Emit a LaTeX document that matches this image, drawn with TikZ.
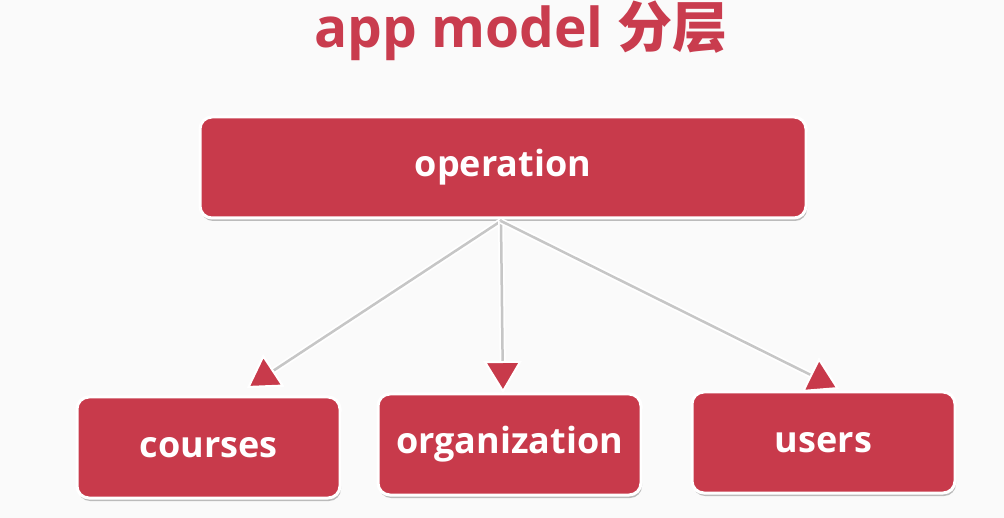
\documentclass[tikz,border=0pt]{standalone}
\usepackage{fontspec}
\setmainfont{Open Sans}
\newfontfamily\cjkfont{Noto Sans CJK SC}
\usetikzlibrary{arrows.meta,shadows}
\definecolor{boxred}{RGB}{200,58,75}
\definecolor{titlered}{RGB}{201,60,78}
\definecolor{bg}{RGB}{250,250,250}
\definecolor{linegray}{RGB}{198,198,198}
\tikzset{
  layerbox/.style={rectangle, rounded corners=12pt, fill=boxred, draw=white,
    line width=3pt, minimum height=101pt, text=white,
    font=\fontsize{36}{42}\selectfont\bfseries,
    drop shadow={shadow xshift=1pt, shadow yshift=-3pt, opacity=0.25, fill=black}},
  link/.style={draw=linegray, line width=2.5pt,
    preaction={draw=white, line width=6pt},
    -{Triangle[length=32pt, width=38pt, fill=boxred, color=white, line width=2pt]}}
}
\begin{document}
\begin{tikzpicture}[x=1pt, y=-1pt]
  \fill[bg] (0,0) rectangle (1004,518);
  \useasboundingbox (0,0) rectangle (1004,518);

  % title
  \node[text=titlered, font=\fontsize{55}{64}\selectfont\bfseries] (title) at (521,31)
    {app model {\cjkfont\bfseries 分层}};

  % layers
  \node[layerbox, minimum width=606pt] (op) at (503,167.5) {operation};
  \node[layerbox, minimum width=263pt] (courses) at (208.5,447.5) {courses};
  \node[layerbox, minimum width=263pt] (org) at (509.5,444.5) {organization};
  \node[layerbox, minimum width=263pt] (users) at (823.5,442.5) {users};

  % free ends of the connectors
  \coordinate (hub) at (501,221);
  \coordinate (toC) at (247,388);
  \coordinate (toO) at (503,393);
  \coordinate (toU) at (839,389);

  \draw[link] (hub) -- (toC);
  \draw[link] (hub) -- (toO);
  \draw[link] (hub) -- (toU);
\end{tikzpicture}
\end{document}
